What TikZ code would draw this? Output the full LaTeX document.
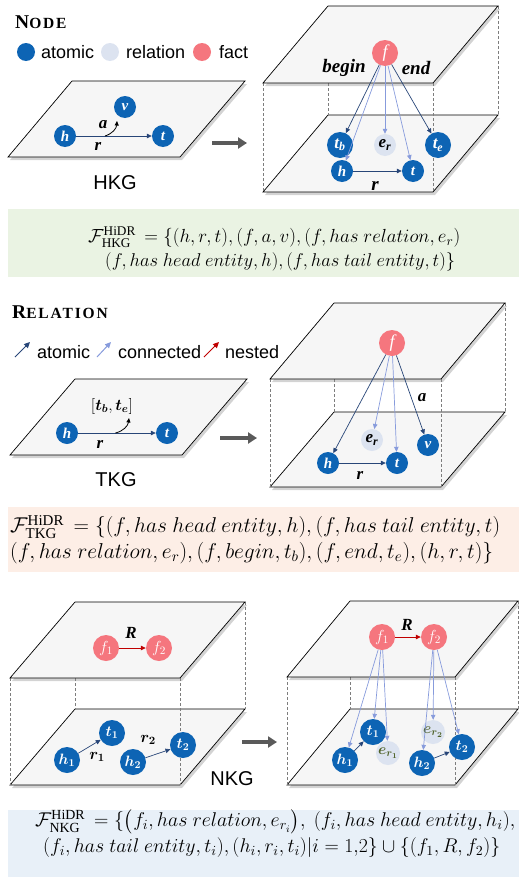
\RequirePackage{fix-cm}
\documentclass[tikz,border=0pt]{standalone}
\usepackage{amsmath}
\usepackage{graphicx}
\usepackage{fontspec}
\setmainfont{Liberation Serif}
\newfontfamily\sansf{Liberation Sans}
\newfontfamily\titlef[LetterSpace=12]{Liberation Serif}
\usetikzlibrary{arrows.meta,shadows,calc}
\definecolor{atomblue}{RGB}{13,100,180}
\definecolor{relfill}{RGB}{220,227,240}
\definecolor{factpink}{RGB}{245,118,126}
\definecolor{darkarr}{RGB}{40,70,120}
\definecolor{lightarr}{RGB}{135,155,220}
\definecolor{nestred}{RGB}{192,0,0}
\definecolor{planefill}{RGB}{246,246,246}
\definecolor{biggray}{RGB}{90,90,90}
\definecolor{dashgray}{RGB}{125,125,125}
\definecolor{boxgreen}{RGB}{234,243,227}
\definecolor{boxpeach}{RGB}{253,238,230}
\definecolor{boxblue}{RGB}{232,240,248}
\definecolor{ergreen}{RGB}{79,98,40}
\newcommand{\ttl}[2]{{\titlef\bfseries\fontsize{19.5}{19.5}\selectfont #1\fontsize{15.5}{15.5}\selectfont #2}}
\newcommand{\fml}[2]{\resizebox{#1pt}{!}{\fontsize{17}{20}\selectfont$#2$}}
\tikzset{
  plane/.style={draw=black, line width=0.7pt, fill=planefill,
    drop shadow={shadow xshift=2pt, shadow yshift=-3pt, opacity=0.35}},
  atom/.style={circle, fill=atomblue, inner sep=0pt, minimum size=22pt, text=white,
    font=\fontsize{15}{15}\selectfont\bfseries\itshape},
  bigatom/.style={atom, minimum size=26pt, font=\fontsize{17}{17}\selectfont\bfseries\itshape},
  relnode/.style={circle, fill=relfill, inner sep=0pt, minimum size=22pt, text=black,
    font=\fontsize{15}{15}\selectfont\bfseries\itshape},
  factnode/.style={circle, fill=factpink, inner sep=0pt, minimum size=26pt, text=white,
    font=\fontsize{18}{18}\selectfont\itshape},
  darr/.style={draw=darkarr, line width=0.7pt, -{Triangle[length=5pt,width=4.5pt]}},
  larr/.style={draw=lightarr, line width=0.7pt, -{Triangle[length=5pt,width=4.5pt]}},
  redarr/.style={draw=nestred, line width=0.8pt, -{Triangle[length=5pt,width=4.5pt]}},
  curvarr/.style={draw=black, line width=0.8pt, -{Triangle[length=4.5pt,width=4pt]}},
  lbl/.style={font=\fontsize{17}{17}\selectfont\bfseries\itshape, inner sep=0pt},
  sanslbl/.style={font=\sansf\fontsize{20}{20}\selectfont, inner sep=0pt},
  legtxt/.style={font=\sansf\fontsize{18}{18}\selectfont, anchor=base west, inner sep=0pt},
  bigarrow/.style={draw=biggray, line width=3.5pt, -{Triangle[length=9pt,width=11pt]}},
  dashv/.style={draw=dashgray, dash pattern=on 3pt off 2pt, line width=0.6pt},
  formula/.style={inner sep=0pt, anchor=west},
  legarr/.style={line width=1pt, -{Triangle[length=6pt,width=5.5pt]}}
}
\begin{document}
\begin{tikzpicture}[x=1pt,y=-1pt]
\useasboundingbox (0,0) rectangle (519,878);

% ================= Section 1: NODE =================
\node[anchor=base west, inner sep=0pt] (t1title) at (15,28) {\ttl{N}{ODE}};
\node[circle, fill=atomblue, minimum size=18pt, inner sep=0pt] (lg1) at (26,52) {};
\node[legtxt] (lg1t) at (41,58) {atomic};
\node[circle, fill=relfill, minimum size=18pt, inner sep=0pt] (lg2) at (110,52) {};
\node[legtxt] (lg2t) at (126,58) {relation};
\node[circle, fill=factpink, minimum size=18pt, inner sep=0pt] (lg3) at (202,52) {};
\node[legtxt] (lg3t) at (219,58) {fact};

% left plane HKG
\filldraw[plane] (72,81) -- (245,81) -- (180,157) -- (8,157) -- cycle;
\node[atom] (h1) at (65,136) {h};
\node[atom] (t1) at (163,136) {t};
\node[atom] (v1) at (125,107) {v};
\draw[darr] (h1) -- (t1);
\path (h1) -- (t1) coordinate[pos=0.38] (m1);
\coordinate (m1e) at (117,121);
\draw[curvarr] (m1) to[bend right=35] (m1e);
\node[lbl] (r1l) at (98,146) {r};
\node[lbl] (a1l) at (103,125) {a};
\node[sanslbl] (hkg) at (115,183) {HKG};
\coordinate (ba1s) at (212,143);
\coordinate (ba1e) at (247,143);
\draw[bigarrow] (ba1s) -- (ba1e);

% right structure
\filldraw[plane] (328,115) -- (498,115) -- (433,192) -- (263,192) -- cycle;
\draw[dashv] (263,83) -- (263,192);
\draw[dashv] (433,83) -- (433,192);
\draw[dashv] (498,6) -- (498,115);
\draw[dashv] (328,83) -- (328,115);
\filldraw[plane] (328,6) -- (498,6) -- (433,83) -- (263,83) -- cycle;
\node[factnode] (f1) at (385,53) {f};
\node[lbl, font=\fontsize{19}{19}\selectfont\bfseries\itshape] (beg) at (344,68) {begin};
\node[lbl, font=\fontsize{19}{19}\selectfont\bfseries\itshape] (endl) at (416,68) {end};
\node[bigatom] (tb) at (340,145) {t\textsubscript{b}};
\node[relnode, font=\fontsize{17}{17}\selectfont\bfseries\itshape] (er1) at (385,145) {e\textsubscript{r}};
\node[bigatom] (te) at (438,145) {t\textsubscript{e}};
\node[atom] (h1r) at (342,171) {h};
\node[atom] (t1r) at (413,171) {t};
\draw[darr] (h1r) -- (t1r);
\node[lbl, font=\fontsize{19}{19}\selectfont\bfseries\itshape] (r1r) at (375,186) {r};
\draw[darr] (f1) -- (tb);
\draw[larr] (f1) -- (h1r);
\draw[larr] (f1) -- (er1);
\draw[larr] (f1) -- (t1r);
\draw[darr] (f1) -- (te);

% formula box 1
\path[fill=boxgreen] (8,209) rectangle (519,277);
\node[formula] (F1a) at (88,237) {\fml{372}{\mathcal{F}^{\mathrm{HiDR}}_{\mathrm{HKG}}\,=\{(h,r,t),(f,a,v),(f,has\ relation,e_r)}};
\node[formula] (F1b) at (105,262) {\fml{350}{(f,has\ head\ entity,h),(f,has\ tail\ entity,t)\}}};

% ================= Section 2: RELATION =================
\node[anchor=base west, inner sep=0pt] (t2title) at (12,318) {\ttl{R}{ELATION}};
\coordinate (la1s) at (15,357); \coordinate (la1e) at (30,342);
\draw[legarr, draw=darkarr] (la1s) -- (la1e);
\node[legtxt] (la1t) at (37,358) {atomic};
\coordinate (la2s) at (97,357); \coordinate (la2e) at (111,342);
\draw[legarr, draw=lightarr] (la2s) -- (la2e);
\node[legtxt] (la2t) at (118,358) {connected};
\coordinate (la3s) at (204,357); \coordinate (la3e) at (219,342);
\draw[legarr, draw=nestred] (la3s) -- (la3e);
\node[legtxt] (la3t) at (225,358) {nested};

% left plane TKG
\filldraw[plane] (75,379) -- (247,379) -- (182,455) -- (10,455) -- cycle;
\node[atom] (h2) at (67,433) {h};
\node[atom] (t2) at (167,433) {t};
\draw[darr] (h2) -- (t2);
\path (h2) -- (t2) coordinate[pos=0.48] (m2);
\coordinate (m2e) at (129,418);
\draw[curvarr] (m2) to[bend right=35] (m2e);
\node[lbl] (r2l) at (100,444) {r};
\node[inner sep=0pt, font=\fontsize{16}{16}\selectfont] (tbte) at (112,406) {$[\boldsymbol{t_b},\boldsymbol{t_e}]$};
\node[sanslbl] (tkg) at (116,480) {TKG};
\coordinate (ba2s) at (220,438);
\coordinate (ba2e) at (257,438);
\draw[bigarrow] (ba2s) -- (ba2e);

% right structure
\filldraw[plane] (334,412) -- (505,412) -- (441,487) -- (270,487) -- cycle;
\draw[dashv] (270,379) -- (270,487);
\draw[dashv] (441,379) -- (441,487);
\draw[dashv] (505,303) -- (505,412);
\draw[dashv] (334,379) -- (334,412);
\filldraw[plane] (334,303) -- (505,303) -- (441,379) -- (270,379) -- cycle;
\node[factnode] (f2) at (392,343) {f};
\node[relnode, font=\fontsize{17}{17}\selectfont\bfseries\itshape] (er2) at (372,440) {e\textsubscript{r}};
\node[atom] (v2) at (428,445) {v};
\node[atom] (h2r) at (328,463) {h};
\node[atom] (t2r) at (397,463) {t};
\draw[darr] (h2r) -- (t2r);
\node[lbl] (r2r) at (360,475) {r};
\node[lbl] (a2r) at (422,398) {a};
\draw[darr] (f2) -- (h2r);
\draw[larr] (f2) -- (er2);
\draw[larr] (f2) -- (t2r);
\draw[darr] (f2) -- (v2);

% formula box 2
\path[fill=boxpeach] (8,507) rectangle (519,572);
\node[formula] (F2a) at (10,527) {\fml{490}{\mathcal{F}^{\mathrm{HiDR}}_{\mathrm{TKG}}\,=\{(f,has\ head\ entity,h),(f,has\ tail\ entity,t)}};
\node[formula] (F2b) at (10,553) {\fml{483}{(f,has\ relation,e_r),(f,begin,t_b),(f,end,t_e),(h,r,t)\}}};

% ================= Section 3: NKG =================
% left
\filldraw[plane] (75,709) -- (245,709) -- (180,785) -- (10,785) -- cycle;
\draw[dashv] (10,678) -- (10,785);
\draw[dashv] (180,678) -- (180,785);
\draw[dashv] (245,602) -- (245,709);
\draw[dashv] (75,678) -- (75,709);
\filldraw[plane] (75,602) -- (245,602) -- (180,678) -- (10,678) -- cycle;
\node[factnode, font=\fontsize{16}{16}\selectfont] (f31) at (106,648) {$f_1$};
\node[factnode, font=\fontsize{16}{16}\selectfont] (f32) at (159,648) {$f_2$};
\draw[redarr] (f31) -- (f32);
\node[lbl] (R3) at (131,633) {R};
\node[bigatom, font=\fontsize{15}{15}\selectfont] (t31) at (112,733) {$\boldsymbol{t_1}$};
\node[bigatom, font=\fontsize{15}{15}\selectfont] (h31) at (67,760) {$\boldsymbol{h_1}$};
\node[bigatom, font=\fontsize{15}{15}\selectfont] (t32) at (183,745) {$\boldsymbol{t_2}$};
\node[bigatom, font=\fontsize{15}{15}\selectfont] (h32) at (133,762) {$\boldsymbol{h_2}$};
\draw[darr] (h31) -- (t31);
\draw[darr] (h32) -- (t32);
\node[inner sep=0pt, font=\fontsize{16}{16}\selectfont] (r31) at (97,757) {$\boldsymbol{r_1}$};
\node[inner sep=0pt, font=\fontsize{16}{16}\selectfont] (r32) at (148,740) {$\boldsymbol{r_2}$};
\node[sanslbl] (nkg) at (232,779) {NKG};
\coordinate (ba3s) at (242,742);
\coordinate (ba3e) at (277,742);
\draw[bigarrow] (ba3s) -- (ba3e);

% right
\filldraw[plane] (350,709) -- (518,709) -- (455,785) -- (287,785) -- cycle;
\draw[dashv] (287,677) -- (287,785);
\draw[dashv] (455,677) -- (455,785);
\draw[dashv] (518,601) -- (518,709);
\draw[dashv] (350,677) -- (350,709);
\filldraw[plane] (350,601) -- (518,601) -- (455,677) -- (287,677) -- cycle;
\node[factnode, font=\fontsize{16}{16}\selectfont] (g1) at (382,637) {$f_1$};
\node[factnode, font=\fontsize{16}{16}\selectfont] (g2) at (434,637) {$f_2$};
\draw[redarr] (g1) -- (g2);
\node[lbl] (R4) at (407,625) {R};
\node[bigatom, font=\fontsize{15}{15}\selectfont] (u1) at (373,732) {$\boldsymbol{t_1}$};
\node[bigatom, font=\fontsize{15}{15}\selectfont] (k1) at (345,760) {$\boldsymbol{h_1}$};
\node[relnode, minimum size=24pt, text=ergreen, font=\fontsize{15}{15}\selectfont] (e1) at (388,753) {$\boldsymbol{e_{r_1}}$};
\node[bigatom, font=\fontsize{15}{15}\selectfont] (k2) at (422,763) {$\boldsymbol{h_2}$};
\node[relnode, minimum size=24pt, text=ergreen, font=\fontsize{15}{15}\selectfont] (e2) at (433,732) {$\boldsymbol{e_{r_2}}$};
\node[bigatom, font=\fontsize{15}{15}\selectfont] (u2) at (462,747) {$\boldsymbol{t_2}$};
\draw[darr] (k1) -- (u1);
\draw[darr] (k2) -- (u2);
\draw[larr] (g1) -- (k1);
\draw[larr] (g1) -- (u1);
\draw[larr] (g1) -- (e1);
\draw[larr] (g2) -- (k2);
\draw[larr] (g2) -- (e2);
\draw[larr] (g2) -- (u2);

% formula box 3
\path[fill=boxblue] (8,810) rectangle (519,877);
\node[formula] (F3a) at (35,822) {\fml{480}{\mathcal{F}^{\mathrm{HiDR}}_{\mathrm{NKG}}\,=\{\big(f_i,has\ relation,e_{r_i}\big),\ (f_i,has\ head\ entity,h_i),}};
\node[formula] (F3b) at (43,848) {\fml{457}{(f_i,has\ tail\ entity,t_i),(h_i,r_i,t_i)|i=1{,}2\}\cup\{(f_1,R,f_2)\}}};
\end{tikzpicture}
\end{document}
